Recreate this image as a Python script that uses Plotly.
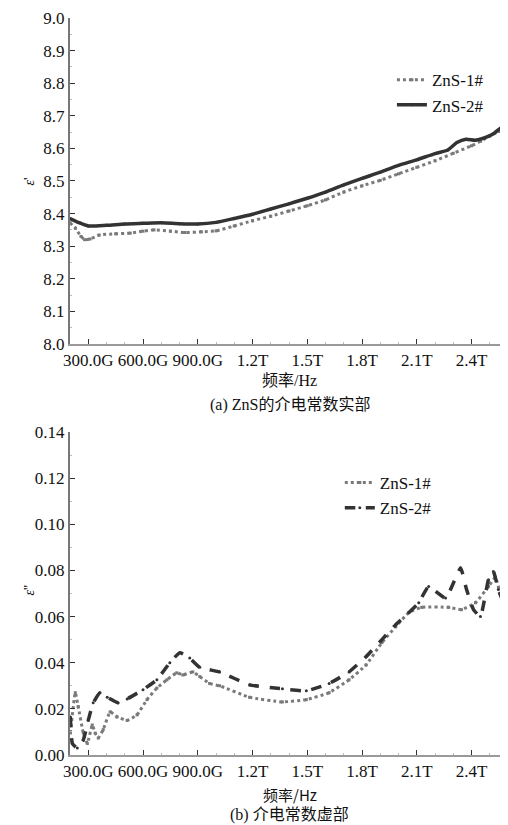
import plotly.graph_objects as go
from plotly.subplots import make_subplots

# ---- data: real part (top) ----
f1_re = [0.20, 0.23, 0.26, 0.28, 0.31, 0.36, 0.45, 0.53, 0.60, 0.66, 0.75, 0.83, 0.92, 1.00,
         1.10, 1.20, 1.30, 1.40, 1.50, 1.60, 1.70, 1.80, 1.90, 2.00, 2.10, 2.20, 2.30, 2.40,
         2.45, 2.50, 2.55, 2.60]
zns1_re = [8.372, 8.355, 8.330, 8.320, 8.322, 8.334, 8.338, 8.340, 8.346, 8.350, 8.346, 8.342,
           8.344, 8.347, 8.362, 8.378, 8.392, 8.408, 8.424, 8.442, 8.466, 8.485, 8.502, 8.522,
           8.542, 8.562, 8.585, 8.608, 8.622, 8.638, 8.652, 8.660]
f2_re = [0.20, 0.25, 0.30, 0.40, 0.50, 0.60, 0.70, 0.80, 0.90, 1.00, 1.10, 1.20, 1.30, 1.40,
         1.50, 1.60, 1.70, 1.80, 1.90, 2.00, 2.10, 2.20, 2.27, 2.32, 2.37, 2.42, 2.47, 2.52,
         2.56, 2.60]
zns2_re = [8.385, 8.372, 8.362, 8.364, 8.368, 8.370, 8.372, 8.369, 8.368, 8.373, 8.385, 8.398,
           8.414, 8.430, 8.447, 8.466, 8.488, 8.508, 8.527, 8.548, 8.565, 8.584, 8.595, 8.618,
           8.628, 8.625, 8.632, 8.645, 8.662, 8.662]

# ---- data: imaginary part (bottom) ----
f1_im = [0.202, 0.229, 0.245, 0.273, 0.295, 0.322, 0.338, 0.355, 0.382, 0.420, 0.458, 0.513,
         0.567, 0.622, 0.676, 0.731, 0.785, 0.818, 0.873, 0.911, 0.965, 1.020, 1.184, 1.364,
         1.495, 1.620, 1.729, 1.822, 1.909, 1.985, 2.056, 2.127, 2.275, 2.345, 2.422, 2.493,
         2.531, 2.558, 2.575, 2.591]
zns1_im = [0.0095, 0.027, 0.021, 0.0095, 0.005, 0.013, 0.0095, 0.0074, 0.011, 0.0187, 0.0165,
           0.015, 0.0174, 0.024, 0.029, 0.0326, 0.0356, 0.0347, 0.036, 0.034, 0.031, 0.030,
           0.025, 0.023, 0.024, 0.027, 0.0326, 0.039, 0.0487, 0.0556, 0.0617, 0.064, 0.064,
           0.063, 0.066, 0.073, 0.077, 0.070, 0.0815, 0.103]
f2_im = [0.202, 0.213, 0.240, 0.273, 0.300, 0.327, 0.365, 0.404, 0.464, 0.513, 0.600, 0.676,
         0.747, 0.802, 0.856, 0.911, 1.020, 1.184, 1.364, 1.495, 1.620, 1.729, 1.822, 1.909,
         1.985, 2.056, 2.111, 2.165, 2.258, 2.340, 2.373, 2.411, 2.449, 2.493, 2.520, 2.547,
         2.585]
zns2_im = [0.0165, 0.005, 0.003, 0.0065, 0.015, 0.0226, 0.027, 0.025, 0.0226, 0.0243, 0.0283,
           0.0326, 0.040, 0.0443, 0.042, 0.038, 0.036, 0.0304, 0.0287, 0.0278, 0.031, 0.036,
           0.0426, 0.050, 0.0565, 0.0617, 0.066, 0.073, 0.068, 0.081, 0.0717, 0.063, 0.060,
           0.076, 0.0795, 0.0717, 0.064]

x_tickvals = [0.3, 0.6, 0.9, 1.2, 1.5, 1.8, 2.1, 2.4]
x_ticktext = ["300.0G", "600.0G", "900.0G", "1.2T", "1.5T", "1.8T", "2.1T", "2.4T"]
y1_tickvals = [8.0, 8.1, 8.2, 8.3, 8.4, 8.5, 8.6, 8.7, 8.8, 8.9, 9.0]
y1_ticktext = ["8.0", "8.1", "8.2", "8.3", "8.4", "8.5", "8.6", "8.7", "8.8", "8.9", "9.0"]
y2_tickvals = [0.00, 0.02, 0.04, 0.06, 0.08, 0.10, 0.12, 0.14]
y2_ticktext = ["0.00", "0.02", "0.04", "0.06", "0.08", "0.10", "0.12", "0.14"]

LATIN = "Liberation Serif, Times New Roman, serif"
FONT = "Liberation Serif, Times New Roman, Noto Sans CJK SC, serif"
GREY = "#7a7a7a"
DARK = "#333333"

fig = make_subplots(rows=2, cols=1)

fig.add_trace(go.Scatter(x=f1_re, y=zns1_re, name="ZnS-1#", mode="lines+markers",
                         line=dict(color=GREY, width=3, dash="dot", shape="spline", smoothing=0.6),
                         marker=dict(symbol="square", size=3, color=GREY),
                         legend="legend"), row=1, col=1)
fig.add_trace(go.Scatter(x=f2_re, y=zns2_re, name="ZnS-2#", mode="lines+markers",
                         line=dict(color=DARK, width=3.5, shape="spline", smoothing=0.6),
                         marker=dict(symbol="circle", size=3, color=DARK),
                         legend="legend"), row=1, col=1)
fig.add_trace(go.Scatter(x=f1_im, y=zns1_im, name="ZnS-1#", mode="lines+markers",
                         line=dict(color=GREY, width=3, dash="dot", shape="spline", smoothing=0.4),
                         marker=dict(symbol="square", size=3, color=GREY),
                         legend="legend2"), row=2, col=1)
fig.add_trace(go.Scatter(x=f2_im, y=zns2_im, name="ZnS-2#", mode="lines+markers",
                         line=dict(color=DARK, width=3.5, dash="dash", shape="spline", smoothing=0.4),
                         marker=dict(symbol="circle", size=3, color=DARK),
                         legend="legend2"), row=2, col=1)

axis_common = dict(showgrid=False, zeroline=False, showline=True, ticks="inside", ticklen=5,
                   tickcolor="#333", tickfont=dict(family=LATIN, size=17, color="#111"),
                   minor=dict(ticks="inside", ticklen=2, tickcolor="#bbb"))

fig.update_xaxes(range=[0.2, 2.6], tickvals=x_tickvals, ticktext=x_ticktext,
                 linecolor="#999", linewidth=1.5, **axis_common)
fig.update_yaxes(linecolor="#777", linewidth=2, **axis_common)
fig.update_yaxes(range=[8.0, 9.0], tickvals=y1_tickvals, ticktext=y1_ticktext, row=1, col=1)
fig.update_yaxes(range=[0.0, 0.14], tickvals=y2_tickvals, ticktext=y2_ticktext, row=2, col=1)

fig.update_layout(
    width=500, height=817,
    margin=dict(l=62, r=0, t=10, b=70),
    paper_bgcolor="white", plot_bgcolor="white",
    font=dict(family=FONT, size=16, color="#111"),
    xaxis=dict(domain=[0, 1]), xaxis2=dict(domain=[0, 1]),
    yaxis=dict(domain=[0.5577, 1.0]), yaxis2=dict(domain=[0.0, 0.4383]),
    legend=dict(x=0.735, y=0.940, xanchor="left", yanchor="top", bgcolor="rgba(0,0,0,0)",
                font=dict(family=LATIN, size=17, color="#111"), tracegroupgap=0,
                itemwidth=30),
    legend2=dict(x=0.616, y=0.3935, xanchor="left", yanchor="top", bgcolor="rgba(0,0,0,0)",
                 font=dict(family=LATIN, size=17, color="#111"), tracegroupgap=0,
                 itemwidth=30),
    annotations=[
        dict(text="频率/Hz", x=0.502, y=0.5088, xref="paper", yref="paper", showarrow=False,
             yanchor="middle", font=dict(family=FONT, size=16, color="#111")),
        dict(text="(a) ZnS的介电常数实部", x=0.502, y=0.4749, xref="paper", yref="paper",
             yanchor="middle", showarrow=False, font=dict(family=FONT, size=16, color="#111")),
        dict(text="频率/Hz", x=0.502, y=-0.0530, xref="paper", yref="paper", showarrow=False,
             yanchor="middle", font=dict(family="Noto Sans CJK SC", size=15, color="#111")),
        dict(text="(b) 介电常数虚部", x=0.502, y=-0.0810, xref="paper", yref="paper",
             yanchor="middle", showarrow=False, font=dict(family=FONT, size=16, color="#111")),
        dict(text="<i>ε</i>'", x=-0.114, y=0.7775, xref="paper", yref="paper", showarrow=False,
             yanchor="middle", textangle=-90, font=dict(family=LATIN, size=14, color="#111")),
        dict(text="<i>ε</i>''", x=-0.114, y=0.2239, xref="paper", yref="paper", showarrow=False,
             yanchor="middle", textangle=-90, font=dict(family=LATIN, size=14, color="#111")),
    ],
)

fig.write_html("out.html")
